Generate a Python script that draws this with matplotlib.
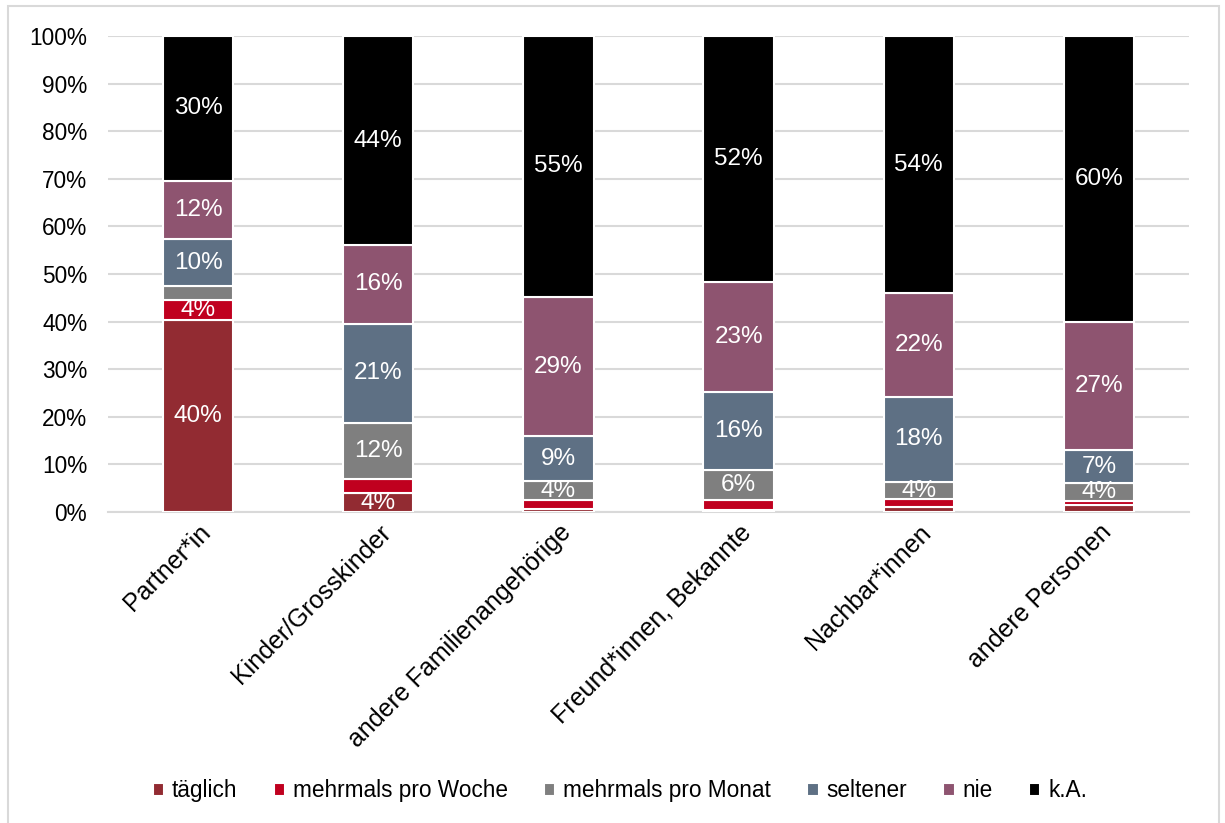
import numpy as np
import matplotlib.pyplot as plt
from matplotlib.patches import Rectangle

plt.rcParams['font.family'] = ['Liberation Sans', 'DejaVu Sans']

# Contact frequency per person group (shares in %)
groups = ["Partner*in", "Kinder/Grosskinder", "andere Familienangehörige",
          "Freund*innen, Bekannte", "Nachbar*innen", "andere Personen"]
categories = ["täglich", "mehrmals pro Woche", "mehrmals pro Monat",
              "seltener", "nie", "k.A."]

taeglich = [40.4, 3.9, 0.7, 0.5, 1.0, 1.5]
pro_woche = [4.2, 3.1, 1.8, 2.0, 1.7, 0.8]
pro_monat = [2.9, 11.8, 4.0, 6.4, 3.6, 3.8]
seltener = [9.8, 20.8, 9.4, 16.3, 17.9, 6.9]
nie = [12.3, 16.4, 29.3, 23.2, 21.8, 26.9]
keine_angabe = [30.4, 44.0, 54.8, 51.6, 54.0, 60.1]

series = [taeglich, pro_woche, pro_monat, seltener, nie, keine_angabe]
colors = ["#922B32", "#C0001F", "#7F7F7F", "#5E7084", "#8E5470", "#000000"]

fig = plt.figure(figsize=(12.25, 8.23), dpi=100)
ax = fig.add_axes([108 / 1225, 1 - 512 / 823, (1189 - 108) / 1225, (512 - 36) / 823])

x = np.arange(len(groups))
bottom = np.zeros(len(groups))
for name, vals, col in zip(categories, series, colors):
    vals = np.array(vals)
    ax.bar(x, vals, 0.39, bottom=bottom, color=col, edgecolor="white",
           linewidth=1.5, label=name, zorder=3)
    # only segments big enough get a value label
    for xi, b, v in zip(x, bottom, vals):
        if v >= 3.5:
            ax.text(xi, b + v / 2, f"{v:.0f}%", ha="center", va="center",
                    color="white", fontsize=17.5, zorder=4)
    bottom += vals

ax.set_xlim(-0.5, len(groups) - 0.5)
ax.set_ylim(0, 100)
ax.set_yticks(np.arange(0, 101, 10))
ax.set_yticklabels([f"{t}%" for t in range(0, 101, 10)], fontsize=16.3)
ax.yaxis.grid(True, color="#D9D9D9", linewidth=1.5, zorder=0)
ax.set_axisbelow(True)
ax.tick_params(axis="y", length=0, pad=15)
ax.tick_params(axis="x", length=0, pad=6)
ax.set_xticks(x)
ax.set_xticklabels(groups, rotation=45, ha="right", rotation_mode="anchor",
                   fontsize=18)
for side in ["left", "right", "top"]:
    ax.spines[side].set_visible(False)
ax.spines["bottom"].set_color("#D9D9D9")
ax.spines["bottom"].set_linewidth(1.5)

ax.legend(loc="center", bbox_to_anchor=(0.506, 0.039),
          bbox_transform=fig.transFigure, ncol=6, frameon=False,
          fontsize=16.3, handlelength=0.5, handleheight=0.5,
          handletextpad=0.35, columnspacing=1.6)

# chart area frame
fig.patches.append(Rectangle((8 / 1225, -0.05), (1219 - 8) / 1225, 1.05 - 6 / 823,
                             transform=fig.transFigure, fill=False,
                             edgecolor="#D9D9D9", linewidth=1.5))

fig.savefig("out.png", dpi=100)
